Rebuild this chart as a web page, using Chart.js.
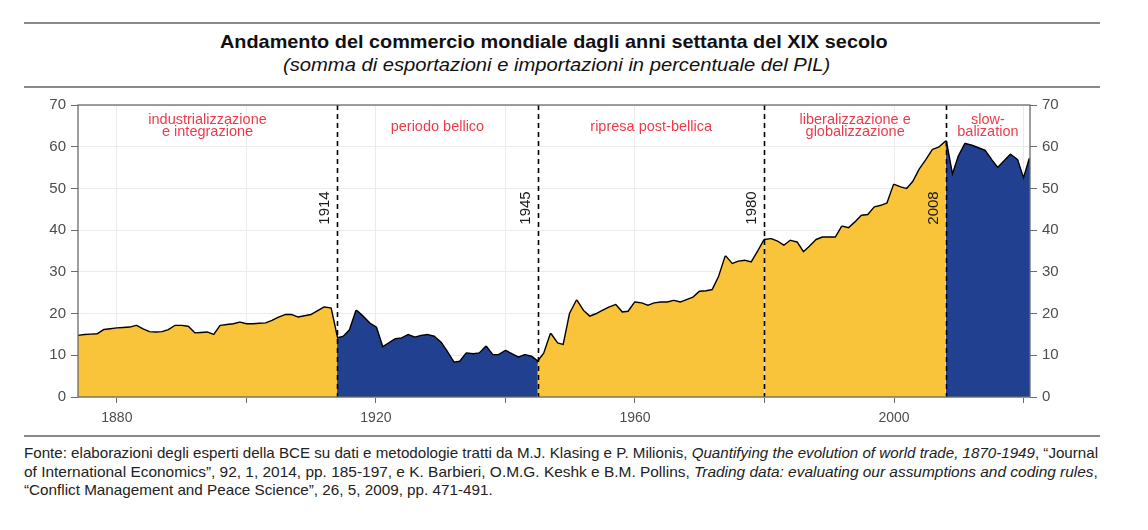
<!DOCTYPE html>
<html>
<head>
<meta charset="utf-8">
<script src="https://cdn.jsdelivr.net/npm/chart.js@4/dist/chart.umd.min.js"></script>
<style>
  body { margin: 0; background: #fff; font-family: "Liberation Sans", Arial, sans-serif; }
  #page { position: relative; width: 1148px; height: 530px; overflow: hidden; }
  .rule { position: absolute; left: 24px; width: 1076px; height: 2px; background: #8a8a8a; }
  .fit { position: absolute; white-space: nowrap; transform-origin: left center; color: #111; }
  #chartBox { position: absolute; left: 30px; top: 91px; width: 1050px; height: 339px; }
  .note { font-size: 14.5px; line-height: 18px; color: #222; }
</style>
</head>
<body>
<div id="page">
  <div class="rule" style="top:22px"></div>
  <div class="fit" data-w="668" style="left:220px; top:31px; font-size:19px; font-weight:bold;">Andamento del commercio mondiale dagli anni settanta del XIX secolo</div>
  <div class="fit" data-w="547" style="left:283px; top:55px; font-size:18px; font-style:italic;">(somma di esportazioni e importazioni in percentuale del PIL)</div>
  <div class="rule" style="top:86px"></div>
  <div id="chartBox"><canvas id="tradeChart"></canvas></div>
  <div class="rule" style="top:435px"></div>
  <div class="fit note" data-w="1074" style="left:24px; top:444px;">Fonte: elaborazioni degli esperti della BCE su dati e metodologie tratti da M.J. Klasing e P. Milionis, <i>Quantifying the evolution of world trade, 1870-1949</i>, “Journal</div>
  <div class="fit note" data-w="1074" style="left:24px; top:462.5px;">of International Economics”, 92, 1, 2014, pp. 185-197, e K. Barbieri, O.M.G. Keshk e B.M. Pollins, <i>Trading data: evaluating our assumptions and coding rules</i>,</div>
  <div class="fit note" data-w="469" style="left:24px; top:481px;">“Conflict Management and Peace Science”, 26, 5, 2009, pp. 471-491.</div>
</div>
<script>
// commercio mondiale in % del PIL, un valore per anno dal 1874
const firstYear = 1874;
const tradeShare = [
  14.6, 14.8, 14.9, 15.0, 16.0, 16.2, 16.4, 16.5, 16.6, 17.0,
  16.2, 15.5, 15.4, 15.5, 16.0, 17.0, 17.0, 16.8, 15.2, 15.3,
  15.4, 14.8, 17.0, 17.2, 17.4, 17.8, 17.4, 17.4, 17.5, 17.6,
  18.2, 19.0, 19.6, 19.6, 19.0, 19.3, 19.6, 20.5, 21.4, 21.2,
  // 1914
  14.0, 14.4, 16.0, 20.6, 19.2, 17.6, 16.6, 11.8, 12.8, 13.8,
  14.0, 14.8, 14.2, 14.6, 14.8, 14.4, 13.0, 10.7, 8.2, 8.4,
  10.4, 10.2, 10.4, 12.0, 10.0, 10.0, 11.0, 10.2, 9.4, 10.0,
  9.6,
  // 1945
  8.4, 10.4, 15.0, 12.8, 12.4, 20.0, 23.0, 20.6, 19.2, 19.8,
  20.6, 21.4, 22.0, 20.2, 20.4, 22.6, 22.4, 21.8, 22.4, 22.6,
  22.6, 23.0, 22.6, 23.2, 23.8, 25.2, 25.3, 25.6, 28.8, 33.6,
  31.8, 32.4, 32.6, 32.2, 34.8,
  // 1980
  37.6, 37.8, 37.2, 36.2, 37.4, 37.0, 34.6, 36.0, 37.6, 38.2,
  38.2, 38.2, 40.8, 40.4, 41.8, 43.4, 43.6, 45.4, 45.8, 46.4,
  50.8, 50.2, 49.8, 51.6, 54.6, 56.8, 59.2, 59.8,
  // 2008
  61.2, 52.8, 57.6, 60.6, 60.2, 59.6, 59.0, 56.8, 54.8, 56.4,
  58.0, 56.8, 52.0, 57.2
];

const breakYears = [1914, 1945, 1980, 2008];
const periodLabels = [
  ['industrializzazione', 'e integrazione'],
  ['periodo bellico'],
  ['ripresa post-bellica'],
  ['liberalizzazione e', 'globalizzazione'],
  ['slow-', 'balization']
];
const periodColors = ['#f9c33a', '#21408f', '#f9c33a', '#f9c33a', '#21408f'];
const yTicks = [0, 10, 20, 30, 40, 50, 60, 70];
const xTickLabels = [1880, 1920, 1960, 2000];

const lastYear = firstYear + tradeShare.length - 1;
const points = tradeShare.map((v, i) => ({ x: firstYear + i, y: v }));
const bounds = [firstYear, ...breakYears, lastYear];

const fillSets = periodColors.map((col, p) => ({
  data: points.filter(pt => pt.x >= bounds[p] && pt.x <= bounds[p + 1]),
  backgroundColor: col,
  borderWidth: 0,
  pointRadius: 0,
  fill: 'origin',
  tension: 0
}));

const lineSet = {
  data: points,
  borderColor: '#000',
  borderWidth: 2.8,
  borderJoinStyle: 'round',
  pointRadius: 0,
  fill: false,
  tension: 0
};

const overlay = {
  id: 'overlay',
  afterDatasetsDraw(chart) {
    const { ctx, chartArea: a, scales } = chart;
    const xs = scales.x;
    ctx.save();
    // linee tratteggiate e anni
    breakYears.forEach(yr => {
      const px = Math.round(xs.getPixelForValue(yr)) + 0.5;
      ctx.strokeStyle = '#000';
      ctx.lineWidth = 1.6;
      ctx.setLineDash([5, 4]);
      ctx.beginPath();
      ctx.moveTo(px, a.top);
      ctx.lineTo(px, a.bottom);
      ctx.stroke();
      ctx.setLineDash([]);
      ctx.save();
      ctx.translate(px - 13, a.top + 103);
      ctx.rotate(-Math.PI / 2);
      ctx.fillStyle = '#1a1a1a';
      ctx.font = '15px "Liberation Sans", Arial, sans-serif';
      ctx.textAlign = 'center';
      ctx.textBaseline = 'middle';
      ctx.fillText(String(yr), 0, 0);
      ctx.restore();
    });
    // etichette dei periodi
    ctx.fillStyle = '#ee3b4b';
    ctx.font = '14.5px "Liberation Sans", Arial, sans-serif';
    ctx.textAlign = 'center';
    ctx.textBaseline = 'middle';
    periodLabels.forEach((lines, p) => {
      const cx = xs.getPixelForValue((bounds[p] + bounds[p + 1]) / 2);
      if (lines.length === 1) {
        ctx.fillText(lines[0], cx, a.top + 22);
      } else {
        ctx.fillText(lines[0], cx, a.top + 15);
        ctx.fillText(lines[1], cx, a.top + 27);
      }
    });
    // cornice del pannello
    ctx.strokeStyle = '#6b6b6b';
    ctx.lineWidth = 1.3;
    ctx.strokeRect(a.left, a.top, a.right - a.left, a.bottom - a.top);
    ctx.restore();
  }
};

const tickFont = { family: '"Liberation Sans", Arial, sans-serif', size: 15 };

new Chart(document.getElementById('tradeChart'), {
  type: 'line',
  data: { datasets: [...fillSets, lineSet] },
  options: {
    responsive: true,
    maintainAspectRatio: false,
    animation: false,
    layout: { padding: { top: 0, left: 0, right: 0, bottom: 0 } },
    plugins: { legend: { display: false }, tooltip: { enabled: false } },
    scales: {
      x: {
        type: 'linear',
        min: firstYear,
        max: lastYear,
        afterFit: s => { s.height = 33; },
        border: { display: false },
        grid: { color: '#ebebeb', lineWidth: 1, tickLength: 6, tickColor: '#6b6b6b' },
        ticks: {
          stepSize: 20,
          includeBounds: false,
          autoSkip: false,
          maxRotation: 0,
          padding: 7,
          color: '#4d4d4d',
          font: { family: tickFont.family, size: 14 },
          callback: v => xTickLabels.includes(v) ? String(v) : ''
        }
      },
      y: {
        position: 'left',
        min: 0,
        max: 70,
        afterFit: s => { s.width = 48; },
        border: { display: false },
        grid: {
          color: '#ebebeb',
          lineWidth: 1,
          tickLength: 7,
          tickColor: c => yTicks.includes(c.tick.value) ? '#6b6b6b' : 'rgba(0,0,0,0)'
        },
        ticks: {
          stepSize: 5,
          padding: 5,
          color: '#4d4d4d',
          font: tickFont,
          callback: v => yTicks.includes(v) ? String(v) : ''
        }
      },
      y2: {
        position: 'right',
        min: 0,
        max: 70,
        afterFit: s => { s.width = 50; },
        border: { display: false },
        grid: { drawOnChartArea: false, tickLength: 7, tickColor: '#6b6b6b' },
        ticks: {
          stepSize: 10,
          padding: 5,
          color: '#4d4d4d',
          font: tickFont
        }
      }
    }
  },
  plugins: [overlay]
});

// adatta la larghezza dei testi a quella del riferimento
document.querySelectorAll('.fit').forEach(el => {
  const w = el.scrollWidth;
  el.style.transform = 'scaleX(' + (Number(el.dataset.w) / w) + ')';
});
</script>
</body>
</html>
